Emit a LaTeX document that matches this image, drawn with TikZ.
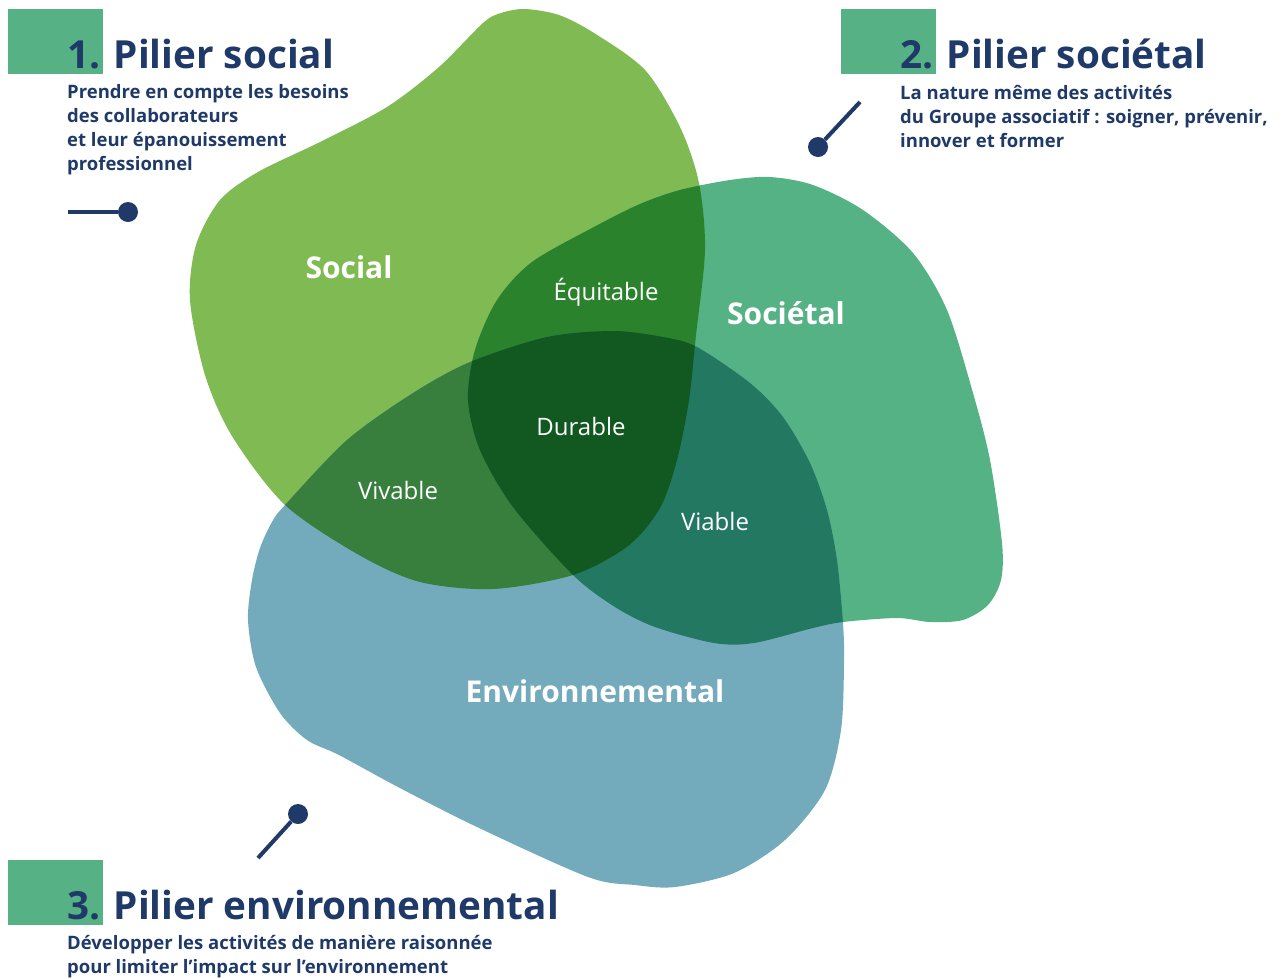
\documentclass[tikz,border=0pt]{standalone}
\usepackage{fontspec}
\setmainfont{Open Sans}
\usepackage{tikz}

\definecolor{navy}{HTML}{1F3A68}
\definecolor{socialgreen}{HTML}{7FBA52}
\definecolor{societalgreen}{HTML}{55B284}
\definecolor{envblue}{HTML}{73ABBD}
\definecolor{equitgreen}{HTML}{2B822D}
\definecolor{vivgreen}{HTML}{387F3E}
\definecolor{viabgreen}{HTML}{237862}
\definecolor{durgreen}{HTML}{125821}
\definecolor{boxgreen}{HTML}{56B285}

\tikzset{
	carre/.style={fill=boxgreen,minimum width=95pt,minimum height=65pt,inner sep=0,anchor=north west},
	pilier/.style={font=\bfseries\fontsize{38.7}{46}\selectfont,text=navy,inner sep=0,anchor=base west},
	desc/.style={font=\bfseries\fontsize{18.5}{24}\selectfont,text=navy,inner sep=0,anchor=base west,align=left},
	blobtitle/.style={font=\bfseries\fontsize{30}{36}\selectfont,text=white,inner sep=0,anchor=base},
	zonetext/.style={font=\fontsize{24}{28}\selectfont,text=white,inner sep=0,anchor=base},
	pinhead/.style={circle,fill=navy,inner sep=0,minimum size=20pt},
	pinline/.style={draw=navy,line width=4pt}
}

\def\socialblob{plot[smooth cycle] coordinates {(483,23) (501,13) (525,9) (559,15) (594,33) (645,70) (680,127) (699,183) (705,250) (696,335) (689,400) (677,460) (660,508) (628,546) (573,575) (493,589) (420,582) (359,555) (285,505) (232,436) (205,375) (190,300) (196,245) (220,200) (258,172) (320,142) (387,107) (439,67)}}
\def\societalblob{plot[smooth cycle] coordinates {(468,400) (475,350) (497,300) (532,262) (594,227) (640,204) (680,190) (730,180) (770,177) (813,185) (863,210) (913,253) (947,310) (973,393) (990,460) (1002,543) (1001,580) (988,605) (963,620) (930,622) (897,618) (843,622) (813,628) (754,643) (714,643) (655,627) (615,607) (573,575) (513,507) (480,450)}}
\def\envblob{plot[smooth cycle] coordinates {(272,522) (285,505) (347,440) (413,393) (470,362) (547,337) (613,331) (663,337) (697,347) (750,383) (783,417) (810,463) (827,510) (837,560) (843,623) (844,663) (841,730) (825,790) (785,840) (734,873) (675,887) (635,885) (588,877) (477,827) (398,787) (339,755) (307,740) (280,713) (256,667) (248,620) (252,580) (260,548)}}

\begin{document}
\begin{tikzpicture}[x=1pt,y=-1pt]
	\useasboundingbox[fill=white] (0,0) rectangle (1285,978);
	
	% les trois piliers
	\fill[socialgreen] \socialblob;
	\fill[societalgreen] \societalblob;
	\fill[envblue] \envblob;
	\begin{scope}
		\clip \socialblob;
		\fill[equitgreen] \societalblob;
		\fill[vivgreen] \envblob;
	\end{scope}
	\begin{scope}
		\clip \societalblob;
		\fill[viabgreen] \envblob;
	\end{scope}
	\begin{scope}
		\clip \socialblob;
		\clip \societalblob;
		\fill[durgreen] \envblob;
	\end{scope}
	
	\node[blobtitle] (social) at (349,278) {Social};
	\node[blobtitle] (societal) at (786,324) {Sociétal};
	\node[blobtitle] (env) at (595,702) {Environnemental};
	\node[zonetext] (equit) at (606,300) {Équitable};
	\node[zonetext] (durable) at (581,435) {Durable};
	\node[zonetext] (vivable) at (398,499) {Vivable};
	\node[zonetext] (viable) at (715,530) {Viable};
	
	% titres
	\node[carre] (b1) at (8,9) {};
	\node[carre] (b2) at (841,9) {};
	\node[carre] (b3) at (8,860) {};
	\node[pilier] (t1) at (67,68) {1. Pilier social};
	\node[pilier] (t2) at (900,68) {2. Pilier sociétal};
	\node[pilier] (t3) at (67,919) {3. Pilier environnemental};
	\node[desc] (d1) at (67,170) {Prendre en compte les besoins\\des collaborateurs\\et leur épanouissement\\professionnel};
	\node[desc] (d2) at (900,147) {La nature même des activités\\du Groupe associatif : soigner, prévenir,\\innover et former};
	\node[desc] (d3) at (67,973) {Développer les activités de manière raisonnée\\pour limiter l’impact sur l’environnement};
	
	% repères
	\node[pinhead] (p1) at (128,212) {};
	\coordinate (p1end) at (68,212);
	\draw[pinline] (p1end) -- (p1);
	\node[pinhead] (p2) at (818,147) {};
	\coordinate (p2end) at (860,102);
	\draw[pinline] (p2end) -- (p2);
	\node[pinhead] (p3) at (298,814) {};
	\coordinate (p3end) at (258,858);
	\draw[pinline] (p3end) -- (p3);
\end{tikzpicture}
\end{document}
